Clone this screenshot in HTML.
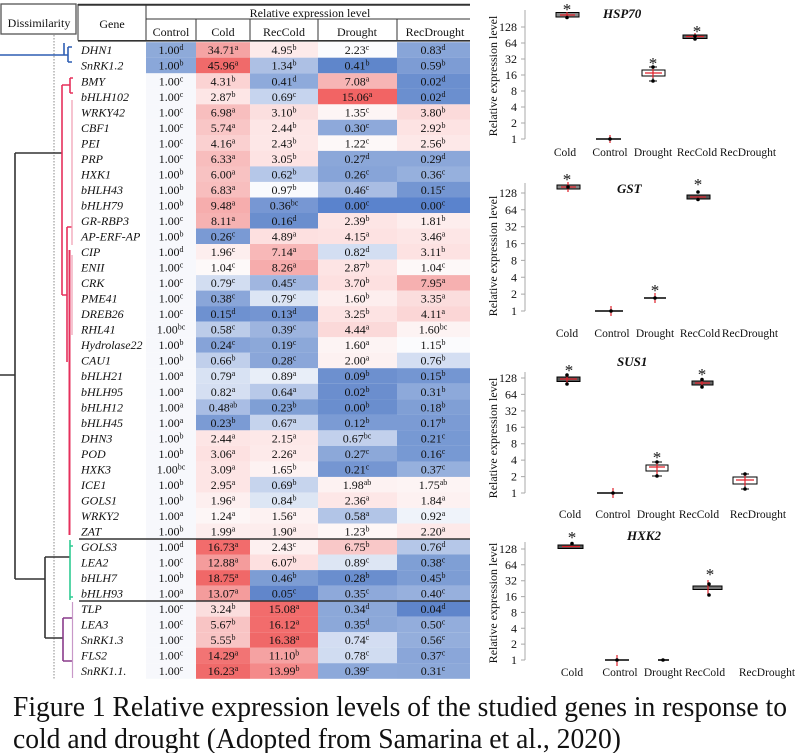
<!DOCTYPE html>
<html><head><meta charset="utf-8">
<style>
html,body{margin:0;padding:0;background:#fff;}
svg{display:block;}
text{font-family:"Liberation Serif","Times New Roman",serif;font-size:12px;fill:#111;}
.g{font-style:italic;}
.c{text-anchor:middle;}
.s{font-size:8px;}
.t{font-weight:bold;font-style:italic;font-size:13px;}
.tk{text-anchor:end;font-size:12px;}
.xl{text-anchor:middle;font-size:11.5px;}
.ast{text-anchor:middle;font-size:17px;}
.cap{font-size:29px;}
</style></head>
<body>
<svg width="800" height="753" viewBox="0 0 800 753" xmlns="http://www.w3.org/2000/svg">
<rect width="800" height="753" fill="#fff"/>

<!-- Dissimilarity box -->
<rect x="1" y="4" width="75" height="30" fill="#fff" stroke="#555" stroke-width="1.3"/>
<text x="39" y="27" class="c">Dissimilarity</text>

<!-- Table header -->
<text x="112" y="28" class="c">Gene</text>
<text x="310" y="17" class="c">Relative expression level</text>
<text x="171" y="36" class="c">Control</text>
<text x="223" y="36" class="c">Cold</text>
<text x="284" y="36" class="c">RecCold</text>
<text x="357" y="36" class="c">Drought</text>
<text x="435" y="36" class="c">RecDrought</text>

<!-- Rows -->
<g transform="translate(0,42.2)"><rect x="146" width="50" height="15.6" fill="#8eaad9"/><rect x="196" width="54" height="15.6" fill="#f5a3a3"/><rect x="250" width="68" height="15.6" fill="#fdeaea"/><rect x="318" width="79" height="15.6" fill="#fbfbfd"/><rect x="397" width="73" height="15.6" fill="#88a5d8"/>
<text x="81" y="12" class="g">DHN1</text><text x="171" y="12" class="c">1.00<tspan class="s" dy="-4">d</tspan></text><text x="223" y="12" class="c">34.71<tspan class="s" dy="-4">a</tspan></text><text x="284" y="12" class="c">4.95<tspan class="s" dy="-4">b</tspan></text><text x="357" y="12" class="c">2.23<tspan class="s" dy="-4">c</tspan></text><text x="433" y="12" class="c">0.83<tspan class="s" dy="-4">d</tspan></text></g>

<g transform="translate(0,57.7)"><rect x="146" width="50" height="15.6" fill="#8aa7d9"/><rect x="196" width="54" height="15.6" fill="#f06a6a"/><rect x="250" width="68" height="15.6" fill="#adc0e4"/><rect x="318" width="79" height="15.6" fill="#5f86cb"/><rect x="397" width="73" height="15.6" fill="#7d9cd4"/>
<text x="81" y="12" class="g">SnRK1.2</text><text x="171" y="12" class="c">1.00<tspan class="s" dy="-4">b</tspan></text><text x="223" y="12" class="c">45.96<tspan class="s" dy="-4">a</tspan></text><text x="284" y="12" class="c">1.34<tspan class="s" dy="-4">b</tspan></text><text x="357" y="12" class="c">0.41<tspan class="s" dy="-4">b</tspan></text><text x="433" y="12" class="c">0.59<tspan class="s" dy="-4">b</tspan></text></g>

<g transform="translate(0,73.3)"><rect x="146" width="50" height="15.6" fill="#f7f8fc"/><rect x="196" width="54" height="15.6" fill="#fbd3d3"/><rect x="250" width="68" height="15.6" fill="#8eaadb"/><rect x="318" width="79" height="15.6" fill="#f7b5b5"/><rect x="397" width="73" height="15.6" fill="#6b8fcf"/>
<text x="81" y="12" class="g">BMY</text><text x="171" y="12" class="c">1.00<tspan class="s" dy="-4">c</tspan></text><text x="223" y="12" class="c">4.31<tspan class="s" dy="-4">b</tspan></text><text x="284" y="12" class="c">0.41<tspan class="s" dy="-4">d</tspan></text><text x="357" y="12" class="c">7.08<tspan class="s" dy="-4">a</tspan></text><text x="433" y="12" class="c">0.02<tspan class="s" dy="-4">d</tspan></text></g>

<g transform="translate(0,88.8)"><rect x="146" width="50" height="15.6" fill="#f7f8fc"/><rect x="196" width="54" height="15.6" fill="#fde6e6"/><rect x="250" width="68" height="15.6" fill="#c6d4ee"/><rect x="318" width="79" height="15.6" fill="#f26464"/><rect x="397" width="73" height="15.6" fill="#6b8fcf"/>
<text x="81" y="12" class="g">bHLH102</text><text x="171" y="12" class="c">1.00<tspan class="s" dy="-4">c</tspan></text><text x="223" y="12" class="c">2.87<tspan class="s" dy="-4">b</tspan></text><text x="284" y="12" class="c">0.69<tspan class="s" dy="-4">c</tspan></text><text x="357" y="12" class="c">15.06<tspan class="s" dy="-4">a</tspan></text><text x="433" y="12" class="c">0.02<tspan class="s" dy="-4">d</tspan></text></g>

<g transform="translate(0,104.3)"><rect x="146" width="50" height="15.6" fill="#f7f8fc"/><rect x="196" width="54" height="15.6" fill="#f8bebe"/><rect x="250" width="68" height="15.6" fill="#fbdfdf"/><rect x="318" width="79" height="15.6" fill="#fdf5f5"/><rect x="397" width="73" height="15.6" fill="#fbdada"/>
<text x="81" y="12" class="g">WRKY42</text><text x="171" y="12" class="c">1.00<tspan class="s" dy="-4">c</tspan></text><text x="223" y="12" class="c">6.98<tspan class="s" dy="-4">a</tspan></text><text x="284" y="12" class="c">3.10<tspan class="s" dy="-4">b</tspan></text><text x="357" y="12" class="c">1.35<tspan class="s" dy="-4">c</tspan></text><text x="433" y="12" class="c">3.80<tspan class="s" dy="-4">b</tspan></text></g>

<g transform="translate(0,119.8)"><rect x="146" width="50" height="15.6" fill="#f7f8fc"/><rect x="196" width="54" height="15.6" fill="#f9c6c6"/><rect x="250" width="68" height="15.6" fill="#fde6e6"/><rect x="318" width="79" height="15.6" fill="#8ea9da"/><rect x="397" width="73" height="15.6" fill="#fde3e3"/>
<text x="81" y="12" class="g">CBF1</text><text x="171" y="12" class="c">1.00<tspan class="s" dy="-4">c</tspan></text><text x="223" y="12" class="c">5.74<tspan class="s" dy="-4">a</tspan></text><text x="284" y="12" class="c">2.44<tspan class="s" dy="-4">b</tspan></text><text x="357" y="12" class="c">0.30<tspan class="s" dy="-4">c</tspan></text><text x="433" y="12" class="c">2.92<tspan class="s" dy="-4">b</tspan></text></g>

<g transform="translate(0,135.4)"><rect x="146" width="50" height="15.6" fill="#f7f8fc"/><rect x="196" width="54" height="15.6" fill="#fad0d0"/><rect x="250" width="68" height="15.6" fill="#fde7e7"/><rect x="318" width="79" height="15.6" fill="#fdf8f8"/><rect x="397" width="73" height="15.6" fill="#fde8e8"/>
<text x="81" y="12" class="g">PEI</text><text x="171" y="12" class="c">1.00<tspan class="s" dy="-4">c</tspan></text><text x="223" y="12" class="c">4.16<tspan class="s" dy="-4">a</tspan></text><text x="284" y="12" class="c">2.43<tspan class="s" dy="-4">b</tspan></text><text x="357" y="12" class="c">1.22<tspan class="s" dy="-4">c</tspan></text><text x="433" y="12" class="c">2.56<tspan class="s" dy="-4">b</tspan></text></g>

<g transform="translate(0,150.9)"><rect x="146" width="50" height="15.6" fill="#f7f8fc"/><rect x="196" width="54" height="15.6" fill="#f8bdbd"/><rect x="250" width="68" height="15.6" fill="#fde3e3"/><rect x="318" width="79" height="15.6" fill="#8ba7d9"/><rect x="397" width="73" height="15.6" fill="#8ba7d9"/>
<text x="81" y="12" class="g">PRP</text><text x="171" y="12" class="c">1.00<tspan class="s" dy="-4">c</tspan></text><text x="223" y="12" class="c">6.33<tspan class="s" dy="-4">a</tspan></text><text x="284" y="12" class="c">3.05<tspan class="s" dy="-4">b</tspan></text><text x="357" y="12" class="c">0.27<tspan class="s" dy="-4">d</tspan></text><text x="433" y="12" class="c">0.29<tspan class="s" dy="-4">d</tspan></text></g>

<g transform="translate(0,166.4)"><rect x="146" width="50" height="15.6" fill="#f7f8fc"/><rect x="196" width="54" height="15.6" fill="#f8c2c2"/><rect x="250" width="68" height="15.6" fill="#b5c7e8"/><rect x="318" width="79" height="15.6" fill="#87a4d8"/><rect x="397" width="73" height="15.6" fill="#96b0dd"/>
<text x="81" y="12" class="g">HXK1</text><text x="171" y="12" class="c">1.00<tspan class="s" dy="-4">b</tspan></text><text x="223" y="12" class="c">6.00<tspan class="s" dy="-4">a</tspan></text><text x="284" y="12" class="c">0.62<tspan class="s" dy="-4">b</tspan></text><text x="357" y="12" class="c">0.26<tspan class="s" dy="-4">c</tspan></text><text x="433" y="12" class="c">0.36<tspan class="s" dy="-4">c</tspan></text></g>

<g transform="translate(0,181.9)"><rect x="146" width="50" height="15.6" fill="#f7f8fc"/><rect x="196" width="54" height="15.6" fill="#f8bebe"/><rect x="250" width="68" height="15.6" fill="#f9fafd"/><rect x="318" width="79" height="15.6" fill="#a9bde3"/><rect x="397" width="73" height="15.6" fill="#7496d2"/>
<text x="81" y="12" class="g">bHLH43</text><text x="171" y="12" class="c">1.00<tspan class="s" dy="-4">b</tspan></text><text x="223" y="12" class="c">6.83<tspan class="s" dy="-4">a</tspan></text><text x="284" y="12" class="c">0.97<tspan class="s" dy="-4">b</tspan></text><text x="357" y="12" class="c">0.46<tspan class="s" dy="-4">c</tspan></text><text x="433" y="12" class="c">0.15<tspan class="s" dy="-4">c</tspan></text></g>

<g transform="translate(0,197.5)"><rect x="146" width="50" height="15.6" fill="#f7f8fc"/><rect x="196" width="54" height="15.6" fill="#f6adad"/><rect x="250" width="68" height="15.6" fill="#7797d3"/><rect x="318" width="79" height="15.6" fill="#5a83cd"/><rect x="397" width="73" height="15.6" fill="#5a83cd"/>
<text x="81" y="12" class="g">bHLH79</text><text x="171" y="12" class="c">1.00<tspan class="s" dy="-4">b</tspan></text><text x="223" y="12" class="c">9.48<tspan class="s" dy="-4">a</tspan></text><text x="284" y="12" class="c">0.36<tspan class="s" dy="-4">bc</tspan></text><text x="357" y="12" class="c">0.00<tspan class="s" dy="-4">c</tspan></text><text x="433" y="12" class="c">0.00<tspan class="s" dy="-4">c</tspan></text></g>

<g transform="translate(0,213.0)"><rect x="146" width="50" height="15.6" fill="#f7f8fc"/><rect x="196" width="54" height="15.6" fill="#f6b2b2"/><rect x="250" width="68" height="15.6" fill="#6a8ece"/><rect x="318" width="79" height="15.6" fill="#fde5e5"/><rect x="397" width="73" height="15.6" fill="#fdeded"/>
<text x="81" y="12" class="g">GR-RBP3</text><text x="171" y="12" class="c">1.00<tspan class="s" dy="-4">c</tspan></text><text x="223" y="12" class="c">8.11<tspan class="s" dy="-4">a</tspan></text><text x="284" y="12" class="c">0.16<tspan class="s" dy="-4">d</tspan></text><text x="357" y="12" class="c">2.39<tspan class="s" dy="-4">b</tspan></text><text x="433" y="12" class="c">1.81<tspan class="s" dy="-4">b</tspan></text></g>

<g transform="translate(0,228.5)"><rect x="146" width="50" height="15.6" fill="#f7f8fc"/><rect x="196" width="54" height="15.6" fill="#7a9ad4"/><rect x="250" width="68" height="15.6" fill="#fde0e0"/><rect x="318" width="79" height="15.6" fill="#fde2e2"/><rect x="397" width="73" height="15.6" fill="#fde6e6"/>
<text x="81" y="12" class="g">AP-ERF-AP</text><text x="171" y="12" class="c">1.00<tspan class="s" dy="-4">b</tspan></text><text x="223" y="12" class="c">0.26<tspan class="s" dy="-4">c</tspan></text><text x="284" y="12" class="c">4.89<tspan class="s" dy="-4">a</tspan></text><text x="357" y="12" class="c">4.15<tspan class="s" dy="-4">a</tspan></text><text x="433" y="12" class="c">3.46<tspan class="s" dy="-4">a</tspan></text></g>

<g transform="translate(0,244.0)"><rect x="146" width="50" height="15.6" fill="#f7f8fc"/><rect x="196" width="54" height="15.6" fill="#fdeeee"/><rect x="250" width="68" height="15.6" fill="#f8b8b8"/><rect x="318" width="79" height="15.6" fill="#d3def2"/><rect x="397" width="73" height="15.6" fill="#fde2e2"/>
<text x="81" y="12" class="g">CIP</text><text x="171" y="12" class="c">1.00<tspan class="s" dy="-4">d</tspan></text><text x="223" y="12" class="c">1.96<tspan class="s" dy="-4">c</tspan></text><text x="284" y="12" class="c">7.14<tspan class="s" dy="-4">a</tspan></text><text x="357" y="12" class="c">0.82<tspan class="s" dy="-4">d</tspan></text><text x="433" y="12" class="c">3.11<tspan class="s" dy="-4">b</tspan></text></g>

<g transform="translate(0,259.6)"><rect x="146" width="50" height="15.6" fill="#f7f8fc"/><rect x="196" width="54" height="15.6" fill="#fdf9f9"/><rect x="250" width="68" height="15.6" fill="#f6acac"/><rect x="318" width="79" height="15.6" fill="#fde4e4"/><rect x="397" width="73" height="15.6" fill="#fdf8f8"/>
<text x="81" y="12" class="g">ENII</text><text x="171" y="12" class="c">1.00<tspan class="s" dy="-4">c</tspan></text><text x="223" y="12" class="c">1.04<tspan class="s" dy="-4">c</tspan></text><text x="284" y="12" class="c">8.26<tspan class="s" dy="-4">a</tspan></text><text x="357" y="12" class="c">2.87<tspan class="s" dy="-4">b</tspan></text><text x="433" y="12" class="c">1.04<tspan class="s" dy="-4">c</tspan></text></g>

<g transform="translate(0,275.1)"><rect x="146" width="50" height="15.6" fill="#f7f8fc"/><rect x="196" width="54" height="15.6" fill="#d2ddf1"/><rect x="250" width="68" height="15.6" fill="#a0b6e0"/><rect x="318" width="79" height="15.6" fill="#fde0e0"/><rect x="397" width="73" height="15.6" fill="#f6b0b0"/>
<text x="81" y="12" class="g">CRK</text><text x="171" y="12" class="c">1.00<tspan class="s" dy="-4">c</tspan></text><text x="223" y="12" class="c">0.79<tspan class="s" dy="-4">c</tspan></text><text x="284" y="12" class="c">0.45<tspan class="s" dy="-4">c</tspan></text><text x="357" y="12" class="c">3.70<tspan class="s" dy="-4">b</tspan></text><text x="433" y="12" class="c">7.95<tspan class="s" dy="-4">a</tspan></text></g>

<g transform="translate(0,290.6)"><rect x="146" width="50" height="15.6" fill="#f7f8fc"/><rect x="196" width="54" height="15.6" fill="#8aa6d9"/><rect x="250" width="68" height="15.6" fill="#dce5f4"/><rect x="318" width="79" height="15.6" fill="#fdeeee"/><rect x="397" width="73" height="15.6" fill="#fbdddd"/>
<text x="81" y="12" class="g">PME41</text><text x="171" y="12" class="c">1.00<tspan class="s" dy="-4">c</tspan></text><text x="223" y="12" class="c">0.38<tspan class="s" dy="-4">c</tspan></text><text x="284" y="12" class="c">0.79<tspan class="s" dy="-4">c</tspan></text><text x="357" y="12" class="c">1.60<tspan class="s" dy="-4">b</tspan></text><text x="433" y="12" class="c">3.35<tspan class="s" dy="-4">a</tspan></text></g>

<g transform="translate(0,306.1)"><rect x="146" width="50" height="15.6" fill="#f7f8fc"/><rect x="196" width="54" height="15.6" fill="#6e91d0"/><rect x="250" width="68" height="15.6" fill="#7495d2"/><rect x="318" width="79" height="15.6" fill="#fde3e3"/><rect x="397" width="73" height="15.6" fill="#fbd6d6"/>
<text x="81" y="12" class="g">DREB26</text><text x="171" y="12" class="c">1.00<tspan class="s" dy="-4">c</tspan></text><text x="223" y="12" class="c">0.15<tspan class="s" dy="-4">d</tspan></text><text x="284" y="12" class="c">0.13<tspan class="s" dy="-4">d</tspan></text><text x="357" y="12" class="c">3.25<tspan class="s" dy="-4">b</tspan></text><text x="433" y="12" class="c">4.11<tspan class="s" dy="-4">a</tspan></text></g>

<g transform="translate(0,321.7)"><rect x="146" width="50" height="15.6" fill="#f7f8fc"/><rect x="196" width="54" height="15.6" fill="#bccce9"/><rect x="250" width="68" height="15.6" fill="#9db4df"/><rect x="318" width="79" height="15.6" fill="#fbd9d9"/><rect x="397" width="73" height="15.6" fill="#fdf3f3"/>
<text x="81" y="12" class="g">RHL41</text><text x="171" y="12" class="c">1.00<tspan class="s" dy="-4">bc</tspan></text><text x="223" y="12" class="c">0.58<tspan class="s" dy="-4">c</tspan></text><text x="284" y="12" class="c">0.39<tspan class="s" dy="-4">c</tspan></text><text x="357" y="12" class="c">4.44<tspan class="s" dy="-4">a</tspan></text><text x="433" y="12" class="c">1.60<tspan class="s" dy="-4">bc</tspan></text></g>

<g transform="translate(0,337.2)"><rect x="146" width="50" height="15.6" fill="#f7f8fc"/><rect x="196" width="54" height="15.6" fill="#86a3d8"/><rect x="250" width="68" height="15.6" fill="#8ca8d9"/><rect x="318" width="79" height="15.6" fill="#fdf4f4"/><rect x="397" width="73" height="15.6" fill="#fbfbfd"/>
<text x="81" y="12" class="g">Hydrolase22</text><text x="171" y="12" class="c">1.00<tspan class="s" dy="-4">b</tspan></text><text x="223" y="12" class="c">0.24<tspan class="s" dy="-4">c</tspan></text><text x="284" y="12" class="c">0.19<tspan class="s" dy="-4">c</tspan></text><text x="357" y="12" class="c">1.60<tspan class="s" dy="-4">a</tspan></text><text x="433" y="12" class="c">1.15<tspan class="s" dy="-4">b</tspan></text></g>

<g transform="translate(0,352.7)"><rect x="146" width="50" height="15.6" fill="#f7f8fc"/><rect x="196" width="54" height="15.6" fill="#c0cfeb"/><rect x="250" width="68" height="15.6" fill="#8aa6d9"/><rect x="318" width="79" height="15.6" fill="#fdf1f1"/><rect x="397" width="73" height="15.6" fill="#d4def2"/>
<text x="81" y="12" class="g">CAU1</text><text x="171" y="12" class="c">1.00<tspan class="s" dy="-4">b</tspan></text><text x="223" y="12" class="c">0.66<tspan class="s" dy="-4">b</tspan></text><text x="284" y="12" class="c">0.28<tspan class="s" dy="-4">c</tspan></text><text x="357" y="12" class="c">2.00<tspan class="s" dy="-4">a</tspan></text><text x="433" y="12" class="c">0.76<tspan class="s" dy="-4">b</tspan></text></g>

<g transform="translate(0,368.2)"><rect x="146" width="50" height="15.6" fill="#f7f8fc"/><rect x="196" width="54" height="15.6" fill="#d8e2f3"/><rect x="250" width="68" height="15.6" fill="#e8eef8"/><rect x="318" width="79" height="15.6" fill="#6d90cf"/><rect x="397" width="73" height="15.6" fill="#7496d2"/>
<text x="81" y="12" class="g">bHLH21</text><text x="171" y="12" class="c">1.00<tspan class="s" dy="-4">a</tspan></text><text x="223" y="12" class="c">0.79<tspan class="s" dy="-4">a</tspan></text><text x="284" y="12" class="c">0.89<tspan class="s" dy="-4">a</tspan></text><text x="357" y="12" class="c">0.09<tspan class="s" dy="-4">b</tspan></text><text x="433" y="12" class="c">0.15<tspan class="s" dy="-4">b</tspan></text></g>

<g transform="translate(0,383.8)"><rect x="146" width="50" height="15.6" fill="#f7f8fc"/><rect x="196" width="54" height="15.6" fill="#d5dff2"/><rect x="250" width="68" height="15.6" fill="#b8c9e9"/><rect x="318" width="79" height="15.6" fill="#6b8ece"/><rect x="397" width="73" height="15.6" fill="#8da9da"/>
<text x="81" y="12" class="g">bHLH95</text><text x="171" y="12" class="c">1.00<tspan class="s" dy="-4">a</tspan></text><text x="223" y="12" class="c">0.82<tspan class="s" dy="-4">a</tspan></text><text x="284" y="12" class="c">0.64<tspan class="s" dy="-4">a</tspan></text><text x="357" y="12" class="c">0.02<tspan class="s" dy="-4">b</tspan></text><text x="433" y="12" class="c">0.31<tspan class="s" dy="-4">b</tspan></text></g>

<g transform="translate(0,399.3)"><rect x="146" width="50" height="15.6" fill="#f7f8fc"/><rect x="196" width="54" height="15.6" fill="#a9bde4"/><rect x="250" width="68" height="15.6" fill="#7f9fd5"/><rect x="318" width="79" height="15.6" fill="#6a8ece"/><rect x="397" width="73" height="15.6" fill="#809fd5"/>
<text x="81" y="12" class="g">bHLH12</text><text x="171" y="12" class="c">1.00<tspan class="s" dy="-4">a</tspan></text><text x="223" y="12" class="c">0.48<tspan class="s" dy="-4">ab</tspan></text><text x="284" y="12" class="c">0.23<tspan class="s" dy="-4">b</tspan></text><text x="357" y="12" class="c">0.00<tspan class="s" dy="-4">b</tspan></text><text x="433" y="12" class="c">0.18<tspan class="s" dy="-4">b</tspan></text></g>

<g transform="translate(0,414.8)"><rect x="146" width="50" height="15.6" fill="#f7f8fc"/><rect x="196" width="54" height="15.6" fill="#7b9bd4"/><rect x="250" width="68" height="15.6" fill="#c5d3ed"/><rect x="318" width="79" height="15.6" fill="#7b9bd4"/><rect x="397" width="73" height="15.6" fill="#7b9bd4"/>
<text x="81" y="12" class="g">bHLH45</text><text x="171" y="12" class="c">1.00<tspan class="s" dy="-4">a</tspan></text><text x="223" y="12" class="c">0.23<tspan class="s" dy="-4">b</tspan></text><text x="284" y="12" class="c">0.67<tspan class="s" dy="-4">a</tspan></text><text x="357" y="12" class="c">0.12<tspan class="s" dy="-4">b</tspan></text><text x="433" y="12" class="c">0.17<tspan class="s" dy="-4">b</tspan></text></g>

<g transform="translate(0,430.3)"><rect x="146" width="50" height="15.6" fill="#f7f8fc"/><rect x="196" width="54" height="15.6" fill="#fde5e5"/><rect x="250" width="68" height="15.6" fill="#fde8e8"/><rect x="318" width="79" height="15.6" fill="#c2d0ec"/><rect x="397" width="73" height="15.6" fill="#7799d3"/>
<text x="81" y="12" class="g">DHN3</text><text x="171" y="12" class="c">1.00<tspan class="s" dy="-4">b</tspan></text><text x="223" y="12" class="c">2.44<tspan class="s" dy="-4">a</tspan></text><text x="284" y="12" class="c">2.15<tspan class="s" dy="-4">a</tspan></text><text x="357" y="12" class="c">0.67<tspan class="s" dy="-4">bc</tspan></text><text x="433" y="12" class="c">0.21<tspan class="s" dy="-4">c</tspan></text></g>

<g transform="translate(0,445.9)"><rect x="146" width="50" height="15.6" fill="#f7f8fc"/><rect x="196" width="54" height="15.6" fill="#fde1e1"/><rect x="250" width="68" height="15.6" fill="#fdeaea"/><rect x="318" width="79" height="15.6" fill="#8ca8d9"/><rect x="397" width="73" height="15.6" fill="#7799d3"/>
<text x="81" y="12" class="g">POD</text><text x="171" y="12" class="c">1.00<tspan class="s" dy="-4">b</tspan></text><text x="223" y="12" class="c">3.06<tspan class="s" dy="-4">a</tspan></text><text x="284" y="12" class="c">2.26<tspan class="s" dy="-4">a</tspan></text><text x="357" y="12" class="c">0.27<tspan class="s" dy="-4">c</tspan></text><text x="433" y="12" class="c">0.16<tspan class="s" dy="-4">c</tspan></text></g>

<g transform="translate(0,461.4)"><rect x="146" width="50" height="15.6" fill="#f7f8fc"/><rect x="196" width="54" height="15.6" fill="#fde5e5"/><rect x="250" width="68" height="15.6" fill="#fdf2f2"/><rect x="318" width="79" height="15.6" fill="#7596d2"/><rect x="397" width="73" height="15.6" fill="#96b0dd"/>
<text x="81" y="12" class="g">HXK3</text><text x="171" y="12" class="c">1.00<tspan class="s" dy="-4">bc</tspan></text><text x="223" y="12" class="c">3.09<tspan class="s" dy="-4">a</tspan></text><text x="284" y="12" class="c">1.65<tspan class="s" dy="-4">b</tspan></text><text x="357" y="12" class="c">0.21<tspan class="s" dy="-4">c</tspan></text><text x="433" y="12" class="c">0.37<tspan class="s" dy="-4">c</tspan></text></g>

<g transform="translate(0,476.9)"><rect x="146" width="50" height="15.6" fill="#f7f8fc"/><rect x="196" width="54" height="15.6" fill="#fde5e5"/><rect x="250" width="68" height="15.6" fill="#c6d4ed"/><rect x="318" width="79" height="15.6" fill="#fdf2f2"/><rect x="397" width="73" height="15.6" fill="#fdf4f4"/>
<text x="81" y="12" class="g">ICE1</text><text x="171" y="12" class="c">1.00<tspan class="s" dy="-4">b</tspan></text><text x="223" y="12" class="c">2.95<tspan class="s" dy="-4">a</tspan></text><text x="284" y="12" class="c">0.69<tspan class="s" dy="-4">b</tspan></text><text x="357" y="12" class="c">1.98<tspan class="s" dy="-4">ab</tspan></text><text x="433" y="12" class="c">1.75<tspan class="s" dy="-4">ab</tspan></text></g>

<g transform="translate(0,492.4)"><rect x="146" width="50" height="15.6" fill="#f7f8fc"/><rect x="196" width="54" height="15.6" fill="#fdefef"/><rect x="250" width="68" height="15.6" fill="#dde6f4"/><rect x="318" width="79" height="15.6" fill="#fde7e7"/><rect x="397" width="73" height="15.6" fill="#fdf1f1"/>
<text x="81" y="12" class="g">GOLS1</text><text x="171" y="12" class="c">1.00<tspan class="s" dy="-4">b</tspan></text><text x="223" y="12" class="c">1.96<tspan class="s" dy="-4">a</tspan></text><text x="284" y="12" class="c">0.84<tspan class="s" dy="-4">b</tspan></text><text x="357" y="12" class="c">2.36<tspan class="s" dy="-4">a</tspan></text><text x="433" y="12" class="c">1.84<tspan class="s" dy="-4">a</tspan></text></g>

<g transform="translate(0,508.0)"><rect x="146" width="50" height="15.6" fill="#f7f8fc"/><rect x="196" width="54" height="15.6" fill="#fdf6f6"/><rect x="250" width="68" height="15.6" fill="#fdf2f2"/><rect x="318" width="79" height="15.6" fill="#b2c5e7"/><rect x="397" width="73" height="15.6" fill="#eff3fa"/>
<text x="81" y="12" class="g">WRKY2</text><text x="171" y="12" class="c">1.00<tspan class="s" dy="-4">a</tspan></text><text x="223" y="12" class="c">1.24<tspan class="s" dy="-4">a</tspan></text><text x="284" y="12" class="c">1.56<tspan class="s" dy="-4">a</tspan></text><text x="357" y="12" class="c">0.58<tspan class="s" dy="-4">a</tspan></text><text x="433" y="12" class="c">0.92<tspan class="s" dy="-4">a</tspan></text></g>

<g transform="translate(0,523.5)"><rect x="146" width="50" height="15.6" fill="#f7f8fc"/><rect x="196" width="54" height="15.6" fill="#fdeded"/><rect x="250" width="68" height="15.6" fill="#fdeded"/><rect x="318" width="79" height="15.6" fill="#fdf6f6"/><rect x="397" width="73" height="15.6" fill="#fde9e9"/>
<text x="81" y="12" class="g">ZAT</text><text x="171" y="12" class="c">1.00<tspan class="s" dy="-4">b</tspan></text><text x="223" y="12" class="c">1.99<tspan class="s" dy="-4">a</tspan></text><text x="284" y="12" class="c">1.90<tspan class="s" dy="-4">a</tspan></text><text x="357" y="12" class="c">1.23<tspan class="s" dy="-4">b</tspan></text><text x="433" y="12" class="c">2.20<tspan class="s" dy="-4">a</tspan></text></g>

<g transform="translate(0,539.0)"><rect x="146" width="50" height="15.6" fill="#f7f8fc"/><rect x="196" width="54" height="15.6" fill="#f26c6c"/><rect x="250" width="68" height="15.6" fill="#fdf0f0"/><rect x="318" width="79" height="15.6" fill="#f9c8c8"/><rect x="397" width="73" height="15.6" fill="#b5c7e8"/>
<text x="81" y="12" class="g">GOLS3</text><text x="171" y="12" class="c">1.00<tspan class="s" dy="-4">d</tspan></text><text x="223" y="12" class="c">16.73<tspan class="s" dy="-4">a</tspan></text><text x="284" y="12" class="c">2.43<tspan class="s" dy="-4">c</tspan></text><text x="357" y="12" class="c">6.75<tspan class="s" dy="-4">b</tspan></text><text x="433" y="12" class="c">0.76<tspan class="s" dy="-4">d</tspan></text></g>

<g transform="translate(0,554.5)"><rect x="146" width="50" height="15.6" fill="#f7f8fc"/><rect x="196" width="54" height="15.6" fill="#f49c9c"/><rect x="250" width="68" height="15.6" fill="#fde0e0"/><rect x="318" width="79" height="15.6" fill="#dde6f4"/><rect x="397" width="73" height="15.6" fill="#7f9fd5"/>
<text x="81" y="12" class="g">LEA2</text><text x="171" y="12" class="c">1.00<tspan class="s" dy="-4">c</tspan></text><text x="223" y="12" class="c">12.88<tspan class="s" dy="-4">a</tspan></text><text x="284" y="12" class="c">6.07<tspan class="s" dy="-4">b</tspan></text><text x="357" y="12" class="c">0.89<tspan class="s" dy="-4">c</tspan></text><text x="433" y="12" class="c">0.38<tspan class="s" dy="-4">c</tspan></text></g>

<g transform="translate(0,570.1)"><rect x="146" width="50" height="15.6" fill="#f7f8fc"/><rect x="196" width="54" height="15.6" fill="#f06868"/><rect x="250" width="68" height="15.6" fill="#7d9dd4"/><rect x="318" width="79" height="15.6" fill="#6a8ece"/><rect x="397" width="73" height="15.6" fill="#7d9dd4"/>
<text x="81" y="12" class="g">bHLH7</text><text x="171" y="12" class="c">1.00<tspan class="s" dy="-4">b</tspan></text><text x="223" y="12" class="c">18.75<tspan class="s" dy="-4">a</tspan></text><text x="284" y="12" class="c">0.46<tspan class="s" dy="-4">b</tspan></text><text x="357" y="12" class="c">0.28<tspan class="s" dy="-4">b</tspan></text><text x="433" y="12" class="c">0.45<tspan class="s" dy="-4">b</tspan></text></g>

<g transform="translate(0,585.6)"><rect x="146" width="50" height="15.6" fill="#f7f8fc"/><rect x="196" width="54" height="15.6" fill="#f49c9c"/><rect x="250" width="68" height="15.6" fill="#6186cb"/><rect x="318" width="79" height="15.6" fill="#8ea9da"/><rect x="397" width="73" height="15.6" fill="#97b0dd"/>
<text x="81" y="12" class="g">bHLH93</text><text x="171" y="12" class="c">1.00<tspan class="s" dy="-4">a</tspan></text><text x="223" y="12" class="c">13.07<tspan class="s" dy="-4">a</tspan></text><text x="284" y="12" class="c">0.05<tspan class="s" dy="-4">c</tspan></text><text x="357" y="12" class="c">0.35<tspan class="s" dy="-4">c</tspan></text><text x="433" y="12" class="c">0.40<tspan class="s" dy="-4">c</tspan></text></g>

<g transform="translate(0,601.1)"><rect x="146" width="50" height="15.6" fill="#f7f8fc"/><rect x="196" width="54" height="15.6" fill="#fbdede"/><rect x="250" width="68" height="15.6" fill="#f26c6c"/><rect x="318" width="79" height="15.6" fill="#8ca8d9"/><rect x="397" width="73" height="15.6" fill="#5f85cb"/>
<text x="81" y="12" class="g">TLP</text><text x="171" y="12" class="c">1.00<tspan class="s" dy="-4">c</tspan></text><text x="223" y="12" class="c">3.24<tspan class="s" dy="-4">b</tspan></text><text x="284" y="12" class="c">15.08<tspan class="s" dy="-4">a</tspan></text><text x="357" y="12" class="c">0.34<tspan class="s" dy="-4">d</tspan></text><text x="433" y="12" class="c">0.04<tspan class="s" dy="-4">d</tspan></text></g>

<g transform="translate(0,616.6)"><rect x="146" width="50" height="15.6" fill="#f7f8fc"/><rect x="196" width="54" height="15.6" fill="#f8c4c4"/><rect x="250" width="68" height="15.6" fill="#f26c6c"/><rect x="318" width="79" height="15.6" fill="#8ca8d9"/><rect x="397" width="73" height="15.6" fill="#93addc"/>
<text x="81" y="12" class="g">LEA3</text><text x="171" y="12" class="c">1.00<tspan class="s" dy="-4">c</tspan></text><text x="223" y="12" class="c">5.67<tspan class="s" dy="-4">b</tspan></text><text x="284" y="12" class="c">16.12<tspan class="s" dy="-4">a</tspan></text><text x="357" y="12" class="c">0.35<tspan class="s" dy="-4">d</tspan></text><text x="433" y="12" class="c">0.50<tspan class="s" dy="-4">c</tspan></text></g>

<g transform="translate(0,632.2)"><rect x="146" width="50" height="15.6" fill="#f7f8fc"/><rect x="196" width="54" height="15.6" fill="#f8c4c4"/><rect x="250" width="68" height="15.6" fill="#f06868"/><rect x="318" width="79" height="15.6" fill="#d3ddf2"/><rect x="397" width="73" height="15.6" fill="#94aedc"/>
<text x="81" y="12" class="g">SnRK1.3</text><text x="171" y="12" class="c">1.00<tspan class="s" dy="-4">c</tspan></text><text x="223" y="12" class="c">5.55<tspan class="s" dy="-4">b</tspan></text><text x="284" y="12" class="c">16.38<tspan class="s" dy="-4">a</tspan></text><text x="357" y="12" class="c">0.74<tspan class="s" dy="-4">c</tspan></text><text x="433" y="12" class="c">0.56<tspan class="s" dy="-4">c</tspan></text></g>

<g transform="translate(0,647.7)"><rect x="146" width="50" height="15.6" fill="#f7f8fc"/><rect x="196" width="54" height="15.6" fill="#f27474"/><rect x="250" width="68" height="15.6" fill="#f5a2a2"/><rect x="318" width="79" height="15.6" fill="#d0dcf1"/><rect x="397" width="73" height="15.6" fill="#8aa6d9"/>
<text x="81" y="12" class="g">FLS2</text><text x="171" y="12" class="c">1.00<tspan class="s" dy="-4">c</tspan></text><text x="223" y="12" class="c">14.29<tspan class="s" dy="-4">a</tspan></text><text x="284" y="12" class="c">11.10<tspan class="s" dy="-4">b</tspan></text><text x="357" y="12" class="c">0.78<tspan class="s" dy="-4">c</tspan></text><text x="433" y="12" class="c">0.37<tspan class="s" dy="-4">c</tspan></text></g>

<g transform="translate(0,663.2)"><rect x="146" width="50" height="15.6" fill="#f7f8fc"/><rect x="196" width="54" height="15.6" fill="#f06a6a"/><rect x="250" width="68" height="15.6" fill="#f48a8a"/><rect x="318" width="79" height="15.6" fill="#8da9da"/><rect x="397" width="73" height="15.6" fill="#8ca8d9"/>
<text x="81" y="12" class="g">SnRK1.1.</text><text x="171" y="12" class="c">1.00<tspan class="s" dy="-4">c</tspan></text><text x="223" y="12" class="c">16.23<tspan class="s" dy="-4">a</tspan></text><text x="284" y="12" class="c">13.99<tspan class="s" dy="-4">b</tspan></text><text x="357" y="12" class="c">0.39<tspan class="s" dy="-4">c</tspan></text><text x="433" y="12" class="c">0.31<tspan class="s" dy="-4">c</tspan></text></g>

<!-- Table lines -->
<g stroke="#333" fill="none">
<path d="M78,4.7H470" stroke-width="2"/>
<path d="M78,4V40.5M146,4V40.5" stroke-width="1"/>
<path d="M146,19H470" stroke-width="1"/>
<path d="M196,19V40.5M250,19V40.5M318,19V40.5M397,19V40.5" stroke-width="1"/>
<path d="M78,40.8H470" stroke-width="1.6"/>
<path d="M79,539H470M79,601H470" stroke-width="1.5"/>
</g>

<!-- Dendrogram -->
<line x1="54" y1="35" x2="54" y2="680" stroke="#888" stroke-width="1" stroke-dasharray="1.5,1.5"/>
<g fill="none" stroke-width="1.6">
<path d="M0,55H64V43M64,55H68M68,47V62M68,47H72M68,62H72" stroke="#2f5fb4"/>
<path d="M15,153V579M0,375H15M15,153H62M15,579H45M45,557V638M45,557H70M45,638H63" stroke="#333"/>
<path d="M62,85V295M62,85H70M70,78V93M70,78H73M70,93H73M62,295H67M67,227V362M67,227H72" stroke="#e6305c"/>
<path d="M69.5,250V535" stroke="#e6305c" stroke-width="2"/>
<path d="M72,100V245M72,255V335" stroke="#f0a3b6" stroke-width="1.3"/>
<path d="M70,540V600M70,546H73M70,597H73" stroke="#2fcb92"/>
<path d="M63,618V661M63,618H72M63,661H72" stroke="#8a3c8c"/>
<path d="M72.5,602V678" stroke="#c898c8" stroke-width="1.2"/>
</g>

<!-- ===== Panel 1 HSP70 ===== -->
<g stroke="#a8a8a8" stroke-width="1" fill="none">
<path d="M525,10V139M521,27H525M521,43H525M521,59H525M521,75H525M521,91H525M521,107H525M521,123H525M521,139H525"/>
<path d="M525,183V311M521,193H525M521,209.8H525M521,226.7H525M521,243.6H525M521,260.4H525M521,277.3H525M521,294.1H525M521,311H525"/>
<path d="M525,372V493M521,378H525M521,394.4H525M521,410.9H525M521,427.3H525M521,443.7H525M521,460.1H525M521,476.6H525M521,493H525"/>
<path d="M525,542V660M521,549H525M521,564.8H525M521,580.7H525M521,596.6H525M521,612.4H525M521,628.3H525M521,644.1H525M521,660H525"/>
</g>
<g>
<text x="517" y="31" class="tk">128</text><text x="517" y="47" class="tk">64</text><text x="517" y="63" class="tk">32</text><text x="517" y="79" class="tk">16</text><text x="517" y="95" class="tk">8</text><text x="517" y="111" class="tk">4</text><text x="517" y="127" class="tk">2</text><text x="517" y="143" class="tk">1</text>

<text x="517" y="197" class="tk">128</text><text x="517" y="213.8" class="tk">64</text><text x="517" y="230.7" class="tk">32</text><text x="517" y="247.6" class="tk">16</text><text x="517" y="264.4" class="tk">8</text><text x="517" y="281.3" class="tk">4</text><text x="517" y="298.1" class="tk">2</text><text x="517" y="315" class="tk">1</text>

<text x="517" y="382" class="tk">128</text><text x="517" y="398.4" class="tk">64</text><text x="517" y="414.9" class="tk">32</text><text x="517" y="431.3" class="tk">16</text><text x="517" y="447.7" class="tk">8</text><text x="517" y="464.1" class="tk">4</text><text x="517" y="480.6" class="tk">2</text><text x="517" y="497" class="tk">1</text>

<text x="517" y="553" class="tk">128</text><text x="517" y="568.8" class="tk">64</text><text x="517" y="584.7" class="tk">32</text><text x="517" y="600.6" class="tk">16</text><text x="517" y="616.4" class="tk">8</text><text x="517" y="632.3" class="tk">4</text><text x="517" y="648.1" class="tk">2</text><text x="517" y="664" class="tk">1</text>
</g>

<text transform="translate(497,76) rotate(-90)" class="c">Relative expression level</text>
<text transform="translate(497,256) rotate(-90)" class="c">Relative expression level</text>
<text transform="translate(497,438) rotate(-90)" class="c">Relative expression level</text>
<text transform="translate(497,603) rotate(-90)" class="c">Relative expression level</text>

<text x="603" y="18" class="t">HSP70</text>
<text x="617" y="193" class="t">GST</text>
<text x="617" y="366" class="t">SUS1</text>
<text x="627" y="540" class="t">HXK2</text>

<!-- x labels -->
<text x="565" y="156" class="xl">Cold</text><text x="610" y="156" class="xl">Control</text><text x="653" y="156" class="xl">Drought</text><text x="697" y="156" class="xl">RecCold</text><text x="748" y="156" class="xl">RecDrought</text>
<text x="567" y="337" class="xl">Cold</text><text x="612" y="337" class="xl">Control</text><text x="655" y="337" class="xl">Drought</text><text x="700" y="337" class="xl">RecCold</text><text x="750" y="337" class="xl">RecDrought</text>
<text x="570" y="518" class="xl">Cold</text><text x="613" y="518" class="xl">Control</text><text x="656" y="518" class="xl">Drought</text><text x="699" y="518" class="xl">RecCold</text><text x="758" y="518" class="xl">RecDrought</text>
<text x="572" y="676" class="xl">Cold</text><text x="620" y="676" class="xl">Control</text><text x="663" y="676" class="xl">Drought</text><text x="705" y="676" class="xl">RecCold</text><text x="767" y="676" class="xl">RecDrought</text>

<!-- Boxes panel 1 -->
<g stroke="#000" stroke-width="1">
<rect x="556" y="12.5" width="23" height="4.5" fill="#8a8a8a"/>
<path d="M596,139H621" stroke-width="1.6"/>
<rect x="642" y="70" width="23" height="6" fill="#fff"/>
<path d="M653,76V81M649,81H657M653,70V67M649,67H657"/>
<rect x="683" y="35" width="24" height="3.5" fill="#666"/>
</g>
<g stroke="#e0202a" stroke-width="1.2">
<path d="M560,15H575M567,12V18"/>
<path d="M610,135V143"/>
<path d="M645,73H662M653,69V78"/>
<path d="M686,36.5H704M695,33V40"/>
</g>
<g fill="#000">
<circle cx="567" cy="17.5" r="1.8"/><circle cx="610" cy="139" r="1.8"/><circle cx="653" cy="81" r="1.8"/><circle cx="653" cy="67" r="1.8"/><circle cx="695" cy="36" r="1.8"/><circle cx="695" cy="39" r="1.8"/>
</g>
<text x="567" y="15" class="ast">*</text>
<text x="653" y="69" class="ast">*</text>
<text x="697" y="37" class="ast">*</text>

<!-- Boxes panel 2 -->
<g stroke="#000" stroke-width="1">
<rect x="557" y="185" width="23" height="4" fill="#888"/>
<path d="M595,311H623" stroke-width="1.6"/>
<path d="M644,298H666" stroke-width="1.6"/>
<rect x="687" y="195" width="23" height="4" fill="#555"/>
</g>
<g stroke="#e0202a" stroke-width="1.2">
<path d="M561,187H576M568,182V192"/>
<path d="M611,306V316"/>
<path d="M655,293V303"/>
<path d="M690,197H706"/>
</g>
<g fill="#000">
<circle cx="568" cy="187" r="1.8"/><circle cx="611" cy="311" r="1.8"/><circle cx="655" cy="298" r="1.8"/><circle cx="698" cy="192" r="1.8"/><circle cx="698" cy="199.5" r="1.8"/>
</g>
<text x="567" y="185" class="ast">*</text>
<text x="655" y="296" class="ast">*</text>
<text x="698" y="190" class="ast">*</text>

<!-- Boxes panel 3 -->
<g stroke="#000" stroke-width="1">
<rect x="557" y="377" width="23" height="4.5" fill="#555"/>
<path d="M597,493H623" stroke-width="1.6"/>
<rect x="646" y="465" width="22" height="6" fill="#fff"/>
<path d="M657,471V476M652,476H662M657,465V462M652,462H662"/>
<rect x="692" y="381" width="21" height="4" fill="#666"/>
<rect x="733" y="477" width="24" height="7" fill="#fff"/>
<path d="M745,477V474M741,474H749M745,484V489M741,489H749"/>
</g>
<g stroke="#e0202a" stroke-width="1.2">
<path d="M560,379H577M567,375V384"/>
<path d="M613,488V498"/>
<path d="M649,467H665M657,462V474"/>
<path d="M695,383H710M702,379V388"/>
<path d="M736,480H754M745,475V486"/>
</g>
<g fill="#000">
<circle cx="567" cy="375" r="1.8"/><circle cx="567" cy="384" r="1.8"/><circle cx="613" cy="493" r="1.8"/><circle cx="657" cy="462" r="1.8"/><circle cx="657" cy="476" r="1.8"/><circle cx="702" cy="379.5" r="1.8"/><circle cx="702" cy="387" r="1.8"/><circle cx="745" cy="474" r="1.8"/><circle cx="745" cy="489" r="1.8"/>
</g>
<text x="569" y="376" class="ast">*</text>
<text x="657" y="463" class="ast">*</text>
<text x="702" y="380" class="ast">*</text>

<!-- Boxes panel 4 -->
<g stroke="#000" stroke-width="1">
<rect x="558" y="545" width="25" height="3.5" fill="#555"/>
<path d="M605,660H629" stroke-width="1.6"/>
<path d="M658,660H669" stroke-width="1.6"/>
<rect x="693" y="586" width="29" height="3.5" fill="#777"/>
</g>
<g stroke="#e0202a" stroke-width="1.2">
<path d="M562,546.5H580"/>
<path d="M617,655V666"/>
<path d="M708,580V595"/>
</g>
<g fill="#000">
<circle cx="572" cy="543.5" r="1.8"/><circle cx="617" cy="660" r="1.8"/><circle cx="663" cy="660" r="1.8"/><circle cx="709" cy="584" r="1.8"/><circle cx="709" cy="595" r="1.8"/>
</g>
<text x="572" y="543" class="ast">*</text>
<text x="710" y="580" class="ast">*</text>

<!-- Caption -->
<text x="13" y="716" class="cap" textLength="774" lengthAdjust="spacingAndGlyphs">Figure 1 Relative expression levels of the studied genes in response to</text>
<text x="13" y="748" class="cap" textLength="608" lengthAdjust="spacingAndGlyphs">cold and drought (Adopted from Samarina et al., 2020)</text>
</svg>
</body></html>
